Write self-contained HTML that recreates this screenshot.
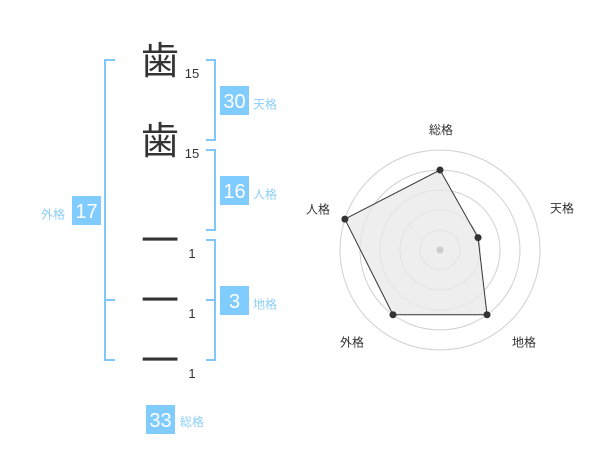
<!DOCTYPE html>
<html><head><meta charset="utf-8"><style>
html,body{margin:0;padding:0;background:#fff;}
svg{display:block;}
.cj{font-family:"Liberation Sans","Noto Sans CJK JP",sans-serif;}
</style></head><body>
<svg width="600" height="470" viewBox="0 0 600 470" xmlns="http://www.w3.org/2000/svg" class="cj">
<!-- brackets -->
<g stroke="#80c8f8" stroke-width="2" fill="none">
  <path d="M115,60 H105 V360 H115 M105,300 H115"/>
  <path d="M206,60 H215 V140 H206"/>
  <path d="M206,150 H215 V230 H206"/>
  <path d="M206,240 H215 V360 H206 M206,300 H215"/>
</g>
<!-- characters -->
<g fill="#333" font-family="'Noto Sans CJK JP',sans-serif" font-size="38" text-anchor="middle">
  <text x="160" y="74">歯</text>
  <text x="160" y="154">歯</text>
  <text x="160" y="254">一</text>
  <text x="160" y="314">一</text>
  <text x="160" y="374">一</text>
</g>
<g fill="#333" font-family="'Liberation Sans',sans-serif" font-size="13" text-anchor="middle">
  <text x="192" y="78">15</text>
  <text x="192" y="158">15</text>
  <text x="192" y="258">1</text>
  <text x="192" y="318">1</text>
  <text x="192" y="378">1</text>
</g>
<!-- boxes -->
<g fill="#80ccff">
  <rect x="220" y="86" width="29" height="29"/>
  <rect x="220" y="176" width="29" height="29"/>
  <rect x="220" y="286" width="29" height="29"/>
  <rect x="72" y="196" width="29" height="29"/>
  <rect x="146" y="405" width="29" height="29"/>
</g>
<g fill="#fff" font-family="'Liberation Sans',sans-serif" font-size="20" text-anchor="middle">
  <text x="234.5" y="108">30</text>
  <text x="234.5" y="198">16</text>
  <text x="234.5" y="308">3</text>
  <text x="86.5" y="218">17</text>
  <text x="160.5" y="427">33</text>
</g>
<g fill="#8ccff8" font-size="12">
  <text x="253" y="108.5">天格</text>
  <text x="253" y="198.5">人格</text>
  <text x="253" y="308.5">地格</text>
  <text x="41" y="218.5">外格</text>
  <text x="180" y="426">総格</text>
</g>
<!-- radar -->
<g fill="none" stroke="#d0d0d0" stroke-width="1">
  <circle cx="440" cy="250" r="20"/>
  <circle cx="440" cy="250" r="40"/>
  <circle cx="440" cy="250" r="60"/>
  <circle cx="440" cy="250" r="80"/>
  <circle cx="440" cy="250" r="100"/>
</g>
<polygon points="440,170 478.04,237.64 487.02,314.72 392.98,314.72 344.89,219.10" fill="#e8e8e8" fill-opacity="0.75" stroke="#333" stroke-width="1"/>
<circle cx="440" cy="250" r="3.5" fill="#ccc"/>
<g fill="#333">
  <circle cx="440" cy="170" r="3.5"/>
  <circle cx="478.04" cy="237.64" r="3.5"/>
  <circle cx="487.02" cy="314.72" r="3.5"/>
  <circle cx="392.98" cy="314.72" r="3.5"/>
  <circle cx="344.89" cy="219.10" r="3.5"/>
</g>
<g fill="#333" font-size="12" text-anchor="middle">
  <text x="441" y="134">総格</text>
  <text x="562" y="212.5">天格</text>
  <text x="318" y="213.5">人格</text>
  <text x="352" y="346.5">外格</text>
  <text x="524" y="346.5">地格</text>
</g>
</svg>
</body></html>
